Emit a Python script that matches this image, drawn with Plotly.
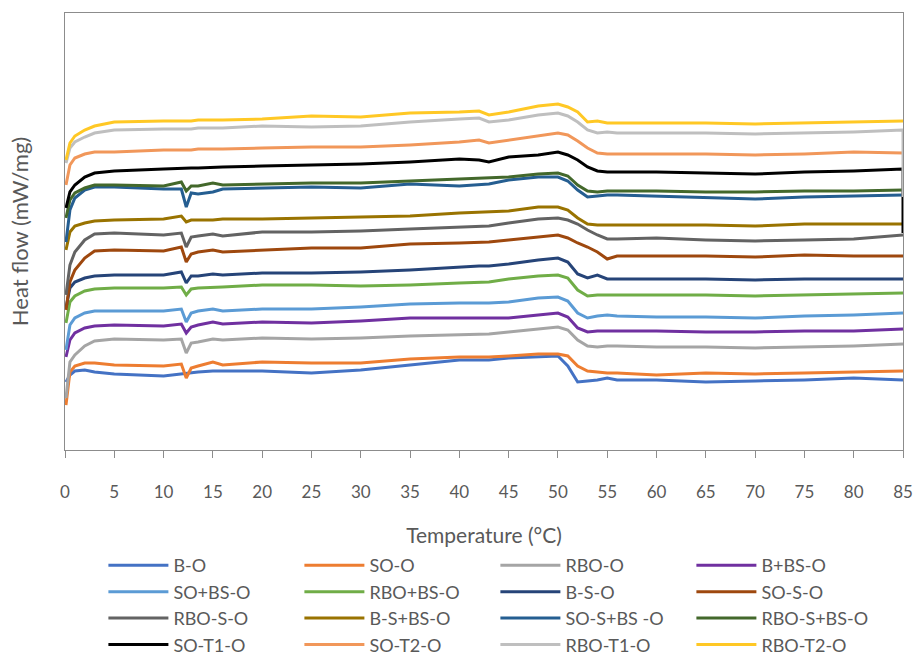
import plotly.graph_objects as go

# Temperature grid (°C) at which the curves were read
TEMP = [0.1, 0.5, 1, 2, 3, 5, 10, 11.8, 12.3, 12.8, 13.5, 15, 16, 20, 25, 30, 35, 40, 42, 43,
        45, 48, 50, 51, 52, 53, 54, 55, 56, 60, 65, 70, 75, 80, 85]

# Heat flow (arbitrary offset units, curves are stacked)
B_O = [68, 75, 79, 80, 78, 76, 74, 76, 77, 77, 78, 79, 79, 79, 77, 80, 85, 90, 90, 90,
       92, 93, 94, 84, 68, 69, 70, 72, 70, 70, 68, 69, 70, 72, 70]
SO_O = [45, 78, 84, 87, 87, 85, 84, 86, 72, 82, 84, 88, 85, 88, 87, 87, 91, 93, 93, 93,
        94, 96, 96, 94, 84, 79, 78, 77, 77, 75, 77, 76, 77, 78, 79]
RBO_O = [52, 88, 95, 104, 109, 111, 110, 111, 97, 107, 108, 111, 110, 112, 111, 112, 114, 115, 116, 116,
         118, 121, 123, 120, 110, 104, 103, 104, 104, 103, 103, 102, 103, 104, 106]
B_BS_O = [93, 110, 117, 122, 124, 125, 124, 126, 117, 123, 125, 128, 126, 128, 127, 129, 132, 132, 132, 132,
          132, 135, 137, 133, 122, 118, 119, 119, 119, 119, 118, 118, 119, 119, 121]
SO_BS_O = [100, 125, 132, 137, 139, 139, 139, 141, 128, 137, 139, 141, 139, 141, 141, 143, 146, 147, 147, 147,
           148, 152, 153, 149, 137, 132, 134, 135, 134, 133, 133, 132, 134, 135, 137]
RBO_BS_O = [127, 148, 154, 159, 161, 162, 162, 163, 155, 161, 162, 163, 163, 165, 165, 164, 165, 167, 168, 168,
            171, 174, 175, 172, 160, 154, 155, 155, 155, 155, 155, 154, 155, 156, 157]
B_S_O = [142, 162, 168, 172, 174, 175, 175, 178, 167, 174, 174, 176, 175, 177, 177, 178, 180, 183, 184, 184,
         186, 190, 192, 188, 176, 172, 175, 171, 171, 171, 171, 170, 171, 171, 171]
SO_S_O = [140, 168, 180, 192, 199, 200, 199, 203, 188, 196, 198, 200, 198, 200, 202, 202, 206, 207, 208, 208,
          210, 213, 215, 212, 207, 203, 198, 191, 194, 194, 194, 193, 195, 194, 194]
RBO_S_O = [155, 185, 198, 210, 216, 217, 215, 217, 203, 213, 214, 216, 214, 218, 218, 219, 221, 223, 224, 224,
           227, 231, 232, 230, 226, 220, 215, 211, 211, 212, 210, 209, 210, 211, 215]
B_S_BS_O = [200, 218, 224, 227, 229, 230, 231, 234, 228, 230, 230, 230, 231, 231, 232, 233, 234, 237, 238, 238,
            239, 243, 243, 240, 232, 226, 225, 225, 225, 225, 225, 224, 226, 226, 226]
SO_S_BS_O = [208, 240, 252, 260, 263, 263, 261, 261, 243, 257, 256, 258, 261, 262, 263, 262, 266, 264, 265, 266,
             270, 273, 273, 269, 260, 253, 254, 255, 255, 254, 253, 251, 253, 254, 255]
RBO_S_BS_O = [232, 250, 257, 262, 265, 265, 264, 268, 259, 264, 264, 267, 265, 266, 267, 267, 269, 271, 272, 272,
              273, 276, 277, 274, 265, 259, 258, 259, 259, 259, 258, 258, 259, 259, 260]
SO_T1_O = [242, 258, 265, 273, 277, 279, 281, 282, 282, 282, 282, 283, 283, 284, 285, 286, 288, 291, 290, 288,
           293, 295, 298, 295, 290, 283, 279, 278, 278, 278, 277, 276, 278, 279, 281]
SO_T2_O = [265, 285, 292, 296, 298, 298, 300, 300, 300, 300, 301, 301, 301, 302, 303, 303, 305, 308, 310, 307,
           310, 314, 317, 315, 309, 302, 297, 296, 296, 296, 296, 295, 296, 298, 297]
RBO_T1_O = [287, 302, 308, 313, 317, 320, 321, 321, 321, 321, 322, 322, 322, 324, 323, 324, 328, 331, 332, 328,
            330, 335, 337, 334, 328, 320, 317, 318, 317, 317, 317, 316, 317, 318, 320]
RBO_T2_O = [290, 307, 314, 320, 324, 328, 329, 329, 329, 329, 330, 330, 330, 331, 334, 333, 337, 338, 339, 335,
            338, 344, 346, 343, 338, 328, 329, 327, 327, 327, 327, 326, 327, 328, 329]

# Final reading at 85 °C (the recorded curve ends with a vertical drop)
SO_T1_END = 217
RBO_T1_END = 253

NAMES = ["B-O", "SO-O", "RBO-O", "B+BS-O", "SO+BS-O", "RBO+BS-O", "B-S-O", "SO-S-O",
         "RBO-S-O", "B-S+BS-O", "SO-S+BS -O", "RBO-S+BS-O", "SO-T1-O", "SO-T2-O", "RBO-T1-O", "RBO-T2-O"]
SERIES = [B_O, SO_O, RBO_O, B_BS_O, SO_BS_O, RBO_BS_O, B_S_O, SO_S_O,
          RBO_S_O, B_S_BS_O, SO_S_BS_O, RBO_S_BS_O, SO_T1_O, SO_T2_O, RBO_T1_O, RBO_T2_O]
COLORS = ["#4472C4", "#ED7D31", "#A5A5A5", "#7030A0", "#5B9BD5", "#70AD47", "#264478", "#9E480E",
          "#636363", "#997300", "#255E91", "#43682B", "#000000", "#F1975A", "#BFBFBF", "#FFC825"]
TAILS = {"SO-T1-O": SO_T1_END, "RBO-T1-O": RBO_T1_END}

X_TICKS = list(range(0, 90, 5))

FONT = "Lato"
TXT = "#595959"
AX = "#8C8C8C"

fig = go.Figure()
for name, vals, col in zip(NAMES, SERIES, COLORS):
    xs = list(TEMP)
    ys = list(vals)
    if name in TAILS:
        xs.append(TEMP[-1])
        ys.append(TAILS[name])
    fig.add_trace(go.Scatter(x=xs, y=ys, mode="lines", name=name,
                             line=dict(color=col, width=3)))

fig.update_layout(
    width=915, height=656,
    margin=dict(l=65, r=12, t=13, b=206, autoexpand=False),
    paper_bgcolor="white", plot_bgcolor="white",
    font=dict(family=FONT, color=TXT, size=16),
    showlegend=True,
    legend=dict(orientation="h", xref="container", yref="container",
                x=0.113, xanchor="left", y=0.166, yanchor="top",
                entrywidth=121, entrywidthmode="pixels", itemwidth=60,
                font=dict(family=FONT, size=18, color=TXT),
                bgcolor="rgba(0,0,0,0)"),
)
fig.update_xaxes(range=[0, 85], tickvals=X_TICKS, ticktext=[str(t) for t in X_TICKS],
                 showgrid=False, zeroline=False, showline=True, linecolor=AX, linewidth=1,
                 mirror=True, ticks="outside", ticklen=7, tickcolor=AX, automargin=True,
                 tickfont=dict(family=FONT, size=17, color=TXT), ticklabelstandoff=20,
                 title=dict(text="Temperature (°C)", font=dict(family=FONT, size=21, color=TXT),
                            standoff=36))
fig.update_yaxes(range=[0, 437], showticklabels=False, ticks="", showgrid=False, zeroline=False,
                 showline=True, linecolor=AX, linewidth=1, mirror=True,
                 title=dict(text="Heat flow (mW/mg)", font=dict(family=FONT, size=22, color=TXT),
                            standoff=29))

fig.write_html("out.html")
